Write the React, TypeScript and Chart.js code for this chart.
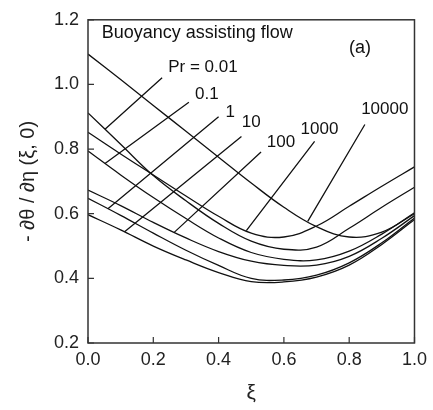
import React, { useEffect, useRef } from "react";
import { Chart, registerables } from "chart.js";

Chart.register(...registerables);

// ---- data ----
const xi = [0, 0.1, 0.2, 0.3, 0.4, 0.5, 0.6, 0.7, 0.8, 0.9, 1.0];

const pr0_01 = [0.912, 0.815, 0.718, 0.64, 0.57, 0.515, 0.49, 0.497, 0.555, 0.62, 0.682];
const pr0_1 = [0.794, 0.72, 0.65, 0.585, 0.525, 0.48, 0.459, 0.457, 0.484, 0.537, 0.603];
const pr1 = [0.648, 0.595, 0.54, 0.487, 0.44, 0.4, 0.395, 0.41, 0.448, 0.51, 0.587];
const pr10 = [0.597, 0.55, 0.5, 0.457, 0.418, 0.39, 0.389, 0.404, 0.441, 0.505, 0.582];
const pr100 = [0.673, 0.625, 0.573, 0.525, 0.483, 0.453, 0.44, 0.441, 0.468, 0.524, 0.594];
const pr1000 = [0.852, 0.785, 0.72, 0.655, 0.592, 0.54, 0.528, 0.562, 0.623, 0.685, 0.745];
const pr10000 = [1.094, 1.015, 0.935, 0.855, 0.775, 0.695, 0.62, 0.56, 0.528, 0.543, 0.6];

const seriesNames = ["0.01", "0.1", "1", "10", "100", "1000", "10000"];
const seriesValues = [pr0_01, pr0_1, pr1, pr10, pr100, pr1000, pr10000];

const xTicks = [0, 0.2, 0.4, 0.6, 0.8, 1.0];
const yTicks = [0.2, 0.4, 0.6, 0.8, 1.0, 1.2];

// curve labels (text, anchor in data units) and leader lines
const labelText = ["Pr = 0.01", "0.1", "1", "10", "100", "1000", "10000"];
const labelX = [0.352, 0.364, 0.436, 0.5, 0.591, 0.709, 0.909];
const labelY = [1.052, 0.971, 0.913, 0.883, 0.822, 0.862, 0.922];
const leaderStartX = [0.227, 0.309, 0.4, 0.47, 0.53, 0.694, 0.848];
const leaderStartY = [1.021, 0.945, 0.9, 0.839, 0.791, 0.824, 0.876];
const leaderEndX = [0.052, 0.052, 0.061, 0.112, 0.264, 0.485, 0.673];

const panelTitle = "Buoyancy assisting flow";
const panelTag = "(a)";
const xTitle = "ξ";
const yTitle = "- ∂θ / ∂η (ξ, 0)";

const FONT = "'Liberation Sans', Arial, Helvetica, sans-serif";

function interp(xs: number[], ys: number[], x: number): number {
  for (let i = 0; i < xs.length - 1; i++) {
    if (x >= xs[i] && x <= xs[i + 1]) {
      const t = (x - xs[i]) / (xs[i + 1] - xs[i]);
      return ys[i] + t * (ys[i + 1] - ys[i]);
    }
  }
  return ys[ys.length - 1];
}

const overlay = {
  id: "overlay",
  afterDatasetsDraw(chart: any) {
    const { ctx, chartArea: ca, scales } = chart;
    const x = scales.x;
    const y = scales.y;
    ctx.save();
    // frame
    ctx.strokeStyle = "#333";
    ctx.lineWidth = 1.5;
    ctx.strokeRect(ca.left, ca.top, ca.right - ca.left, ca.bottom - ca.top);
    // inward tick marks
    ctx.lineWidth = 1.2;
    ctx.beginPath();
    xTicks.forEach((v) => {
      const px = x.getPixelForValue(v);
      ctx.moveTo(px, ca.bottom);
      ctx.lineTo(px, ca.bottom - 6);
    });
    yTicks.forEach((v) => {
      const py = y.getPixelForValue(v);
      ctx.moveTo(ca.left, py);
      ctx.lineTo(ca.left + 6, py);
    });
    ctx.stroke();
    // leader lines
    ctx.strokeStyle = "#111";
    ctx.lineWidth = 1.3;
    ctx.beginPath();
    for (let i = 0; i < labelText.length; i++) {
      const ex = leaderEndX[i];
      const ey = interp(xi, seriesValues[i], ex);
      ctx.moveTo(x.getPixelForValue(leaderStartX[i]), y.getPixelForValue(leaderStartY[i]));
      ctx.lineTo(x.getPixelForValue(ex), y.getPixelForValue(ey));
    }
    ctx.stroke();
    // labels
    ctx.fillStyle = "#111";
    ctx.font = `17px ${FONT}`;
    ctx.textAlign = "center";
    ctx.textBaseline = "middle";
    for (let i = 0; i < labelText.length; i++) {
      ctx.fillText(labelText[i], x.getPixelForValue(labelX[i]), y.getPixelForValue(labelY[i]));
    }
    ctx.font = `18px ${FONT}`;
    ctx.textAlign = "left";
    ctx.fillText(panelTitle, x.getPixelForValue(0.042), y.getPixelForValue(1.16));
    ctx.textAlign = "center";
    ctx.fillText(panelTag, x.getPixelForValue(0.833), y.getPixelForValue(1.114));
    ctx.restore();
  },
};

export default function App() {
  const ref = useRef<HTMLCanvasElement | null>(null);
  useEffect(() => {
    if (!ref.current) return;
    const chart = new Chart(ref.current, {
      type: "line",
      data: {
        datasets: seriesValues.map((vals, i) => ({
          label: "Pr = " + seriesNames[i],
          data: xi.map((v, j) => ({ x: v, y: vals[j] })),
          borderColor: "#111",
          borderWidth: 1.3,
          pointRadius: 0,
          fill: false,
          tension: 0.4,
        })),
      },
      options: {
        responsive: false,
        animation: false,
        events: [],
        layout: { padding: { left: 0, top: 13, right: 15, bottom: 0 } },
        plugins: { legend: { display: false }, tooltip: { enabled: false } },
        scales: {
          x: {
            type: "linear",
            min: 0,
            max: 1,
            afterBuildTicks: (s: any) => {
              s.ticks = xTicks.map((v) => ({ value: v }));
            },
            afterFit: (s: any) => {
              s.height = 67;
            },
            grid: { display: false, drawTicks: false },
            border: { display: false },
            ticks: {
              padding: 6,
              color: "#222",
              font: { family: FONT, size: 18 },
              callback: (v: any) => Number(v).toFixed(1),
              maxRotation: 0,
            },
            title: {
              display: true,
              text: xTitle,
              color: "#222",
              font: { family: FONT, size: 21 },
              padding: { top: 0, bottom: 4 },
            },
          },
          y: {
            type: "linear",
            min: 0.2,
            max: 1.2,
            afterBuildTicks: (s: any) => {
              s.ticks = yTicks.map((v) => ({ value: v }));
            },
            afterFit: (s: any) => {
              s.width = 88;
            },
            grid: { display: false, drawTicks: false },
            border: { display: false },
            ticks: {
              padding: 9,
              color: "#222",
              font: { family: FONT, size: 18 },
              callback: (v: any) => Number(v).toFixed(1),
            },
            title: {
              display: true,
              text: yTitle,
              color: "#222",
              font: { family: FONT, size: 20 },
              padding: { top: 16, bottom: 0 },
            },
          },
        },
      },
      plugins: [overlay],
    });
    return () => chart.destroy();
  }, []);
  return (
    <div style={{ position: "fixed", left: 0, top: 0, width: 433, height: 410, background: "#fff" }}>
      <canvas ref={ref} width={433} height={410} style={{ width: 433, height: 410, display: "block" }} />
    </div>
  );
}
